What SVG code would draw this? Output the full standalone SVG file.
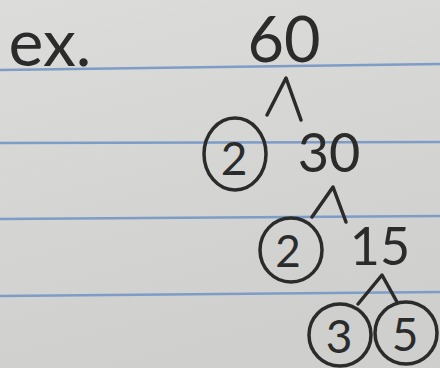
<svg xmlns="http://www.w3.org/2000/svg" width="440" height="368" viewBox="0 0 440 368">
<defs>
<linearGradient id="paper" x1="0" y1="0" x2="0.3" y2="1">
<stop offset="0" stop-color="#dcdcda"/>
<stop offset="1" stop-color="#cfcfcd"/>
</linearGradient>
<style>
.rule{stroke:#7d9cc6;stroke-width:2.5;fill:none}
.ink{stroke:#2b2b2b;stroke-width:3.5;fill:none;stroke-linecap:round;stroke-linejoin:round}
.t{font-family:Lato,"Open Sans","DejaVu Sans",sans-serif;font-weight:400;fill:#2b2b2b;text-anchor:middle}
</style>
</defs>
<rect width="440" height="368" fill="url(#paper)"/>
<g id="rules">
<line class="rule" x1="0" y1="70" x2="440" y2="64"/>
<line class="rule" x1="0" y1="143" x2="440" y2="142"/>
<line class="rule" x1="0" y1="219" x2="440" y2="216"/>
<line class="rule" x1="0" y1="296" x2="440" y2="292"/>
</g>
<g id="label-ex"><text class="t" x="50" y="66" font-size="66">ex.</text></g>
<g id="connectors">
<polyline class="ink" points="267,115 286,78 301,120"/>
<polyline class="ink" points="312,217 333,187 346,222"/>
<polyline class="ink" points="358,304 382,275 397,302"/>
</g>
<g id="n60"><text class="t" x="284" y="62" font-size="63">60</text></g>
<g id="n2a"><ellipse class="ink" cx="235" cy="154" rx="31" ry="36"/><text class="t" x="234" y="175" font-size="46">2</text></g>
<g id="n30"><text class="t" x="329" y="172" font-size="54">30</text></g>
<g id="n2b"><ellipse class="ink" cx="291" cy="250" rx="31" ry="32"/><text class="t" x="288" y="267" font-size="44">2</text></g>
<g id="n15"><text class="t" x="380" y="265" font-size="52">15</text></g>
<g id="n3"><ellipse class="ink" cx="340" cy="335" rx="31" ry="31"/><text class="t" x="339" y="353" font-size="46">3</text></g>
<g id="n5"><ellipse class="ink" cx="406" cy="333" rx="31" ry="31"/><text class="t" x="405" y="351" font-size="46">5</text></g>
</svg>
